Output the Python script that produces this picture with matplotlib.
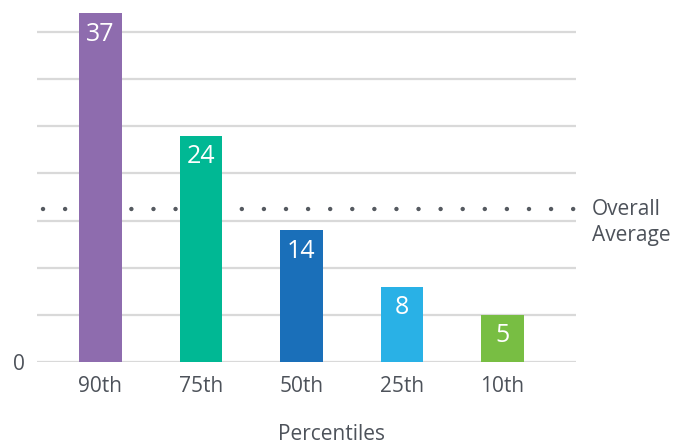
import numpy as np
import matplotlib.pyplot as plt

# %% DATA
categories = ['90th', '75th', '50th', '25th', '10th']
values     = [37, 24, 14, 8, 5]
colors     = ['#8e6cae', '#00b894', '#1a6fb9', '#29b1e6', '#78be43']
average    = 16.2
gridVals   = [0, 5, 10, 15, 20, 25, 30, 35]

txtColor = '#4d525a'
plt.rcParams['font.family'] = ['Open Sans', 'DejaVu Sans']

# %% PLOT
fig = plt.figure(figsize=(6.79, 4.47), dpi=100)
ax = fig.add_axes([37/679, (447-362)/447, (576-37)/679, 362/447])

x = np.arange(len(categories))
ax.bar(x, values, width=0.42, color=colors, zorder=3)

# grid lines
for g in gridVals:
    ax.axhline(g, color='#d9d9d9', lw=1.6, zorder=1)

# overall average dotted line (behind the bars)
ax.plot([-0.571, 4.725], [average, average], color='#555a60', lw=3.2,
        dashes=(0.01, 4.96), dash_capstyle='round', zorder=2, clip_on=False)

# value labels inside bar tops
for xi, v in zip(x, values):
    ax.text(xi, v - 0.9, str(v), ha='center', va='top', color='white',
            fontsize=18, zorder=4)

ax.set_xlim(-0.631, 4.732)
ax.set_ylim(0, 38.4)
for s in ax.spines.values():
    s.set_visible(False)
ax.set_yticks([0])
ax.set_yticklabels(['0'])
ax.set_xticks(x)
ax.set_xticklabels(categories)
ax.tick_params(axis='both', length=0, colors=txtColor, labelsize=15)
ax.tick_params(axis='x', pad=10)
ax.tick_params(axis='y', pad=9)

fig.text(332/679, 1 - 435/447, 'Percentiles', ha='center', va='center',
         color=txtColor, fontsize=15)
ax.text(4.89, average + 1.1, 'Overall\nAverage', ha='left', va='top',
        color=txtColor, fontsize=15, linespacing=1.3, clip_on=False)

fig.savefig('out.png', dpi=100)
